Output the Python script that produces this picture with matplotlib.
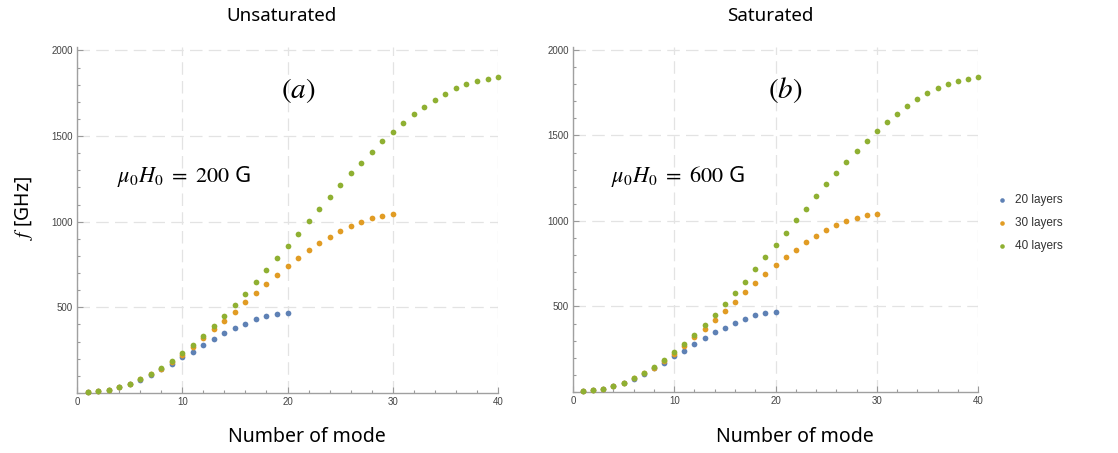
import matplotlib
matplotlib.use("Agg")
import matplotlib.pyplot as plt
from matplotlib.ticker import MultipleLocator

plt.rcParams["mathtext.fontset"] = "stix"

modes = list(range(1, 41))

# mode frequencies in GHz, one list per film thickness
f_20 = [3, 10, 19, 34, 53, 77, 106, 138, 169, 208, 242, 279, 313, 348, 377,
        404, 429, 448, 462, 469]
f_30 = [4, 10, 19, 35, 54, 79, 109, 142, 181, 221, 267, 319, 371, 423, 475,
        529, 583, 638, 690, 740, 788, 833, 875, 913, 948, 975, 1000, 1019,
        1034, 1042]
f_40 = [4, 10, 19, 35, 54, 79, 110, 146, 187, 233, 279, 333, 392, 452, 515,
        579, 646, 717, 787, 860, 931, 1004, 1073, 1145, 1215, 1282, 1345,
        1408, 1469, 1525, 1579, 1626, 1670, 1711, 1747, 1778, 1803, 1820,
        1833, 1843]

series = [("20 layers", f_20, "#5E81B5"),
          ("30 layers", f_30, "#E19C24"),
          ("40 layers", f_40, "#8FB032")]

panels = [("Unsaturated", "(a)", 200), ("Saturated", "(b)", 600)]
ax_rects = [[0.0689, 0.1325, 0.3766, 0.7638],
            [0.5125, 0.1347, 0.3623, 0.7625]]

SANS = "Noto Sans"
fig = plt.figure(figsize=(11.18, 4.53), dpi=100)

for (title, tag, field), rect in zip(panels, ax_rects):
    ax = fig.add_axes(rect)
    for name, f, col in series:
        ax.scatter(modes[:len(f)], f, s=17, color=col, linewidths=0,
                   label=name, zorder=3, clip_on=False)
    ax.set_xlim(0, 40)
    ax.set_ylim(0, 2020)
    ax.xaxis.set_major_locator(MultipleLocator(10))
    ax.xaxis.set_minor_locator(MultipleLocator(2))
    ax.set_yticks([500, 1000, 1500, 2000])
    ax.yaxis.set_minor_locator(MultipleLocator(100))
    ax.tick_params(which="both", direction="in", color="#9a9a9a", width=0.8,
                   labelsize=7, labelcolor="#444444", pad=3)
    ax.tick_params(which="major", length=4)
    ax.tick_params(which="minor", length=2)
    for lbl in ax.get_xticklabels() + ax.get_yticklabels():
        lbl.set_family("Liberation Sans")
    for s in ["top", "right"]:
        ax.spines[s].set_visible(False)
    for s in ["left", "bottom"]:
        ax.spines[s].set_color("#a0a0a0")
        ax.spines[s].set_linewidth(1.0)
    ax.grid(True, which="major", color="#e3e3e3", lw=0.9,
            linestyle=(0, (10, 5)))
    ax.set_axisbelow(True)

    cx = rect[0] + rect[2] / 2
    fig.text(cx - 0.005, 1 - 16 / 453, title, ha="center", va="center",
             family=SANS, fontsize=13.5)
    fig.text(cx + 0.017, 1 - 437 / 453, "Number of mode", ha="center",
             va="center", family=SANS, fontsize=14)
    ax.text(0.525, 0.875, "$" + tag + "$", transform=ax.transAxes,
            ha="center", va="center", fontsize=21)
    # field value set in math, unit letter in the sans family
    ax.text(0.095, 0.625, r"$\mu_0 H_0\ =\ %d$ G" % field,
            transform=ax.transAxes, ha="left", va="center", fontsize=16,
            family=SANS)

fig.text(24 / 1118, 1 - 208 / 453, r"$f$ [GHz]", rotation=90, ha="center",
         va="center", family=SANS, fontsize=14)

handles, labels = ax.get_legend_handles_labels()
leg = fig.legend(handles, labels, loc="center left",
                 bbox_to_anchor=(0.876, 1 - 223 / 453), frameon=False,
                 handletextpad=0.1, labelspacing=0.9, markerscale=0.8,
                 prop={"family": "Liberation Sans", "size": 8.5})
for t in leg.get_texts():
    t.set_color("#333333")

fig.savefig("out.png", dpi=100, facecolor="white")
